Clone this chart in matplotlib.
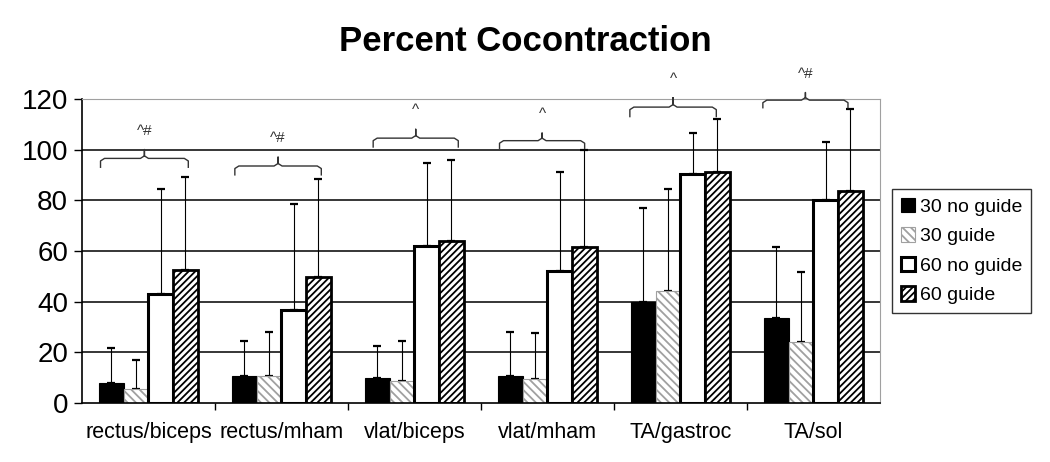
import numpy as np
from matplotlib import pyplot as plt

plt.rcParams['font.family'] = ['Liberation Sans', 'DejaVu Sans']

muscles = ['rectus/biceps', 'rectus/mham', 'vlat/biceps', 'vlat/mham', 'TA/gastroc', 'TA/sol']
series = ['30 no guide', '30 guide', '60 no guide', '60 guide']

no_guide_30 = [8, 10.5, 10, 10.5, 40, 33.5]
guide_30 = [5.5, 10.5, 8.5, 9.5, 44, 24]
no_guide_60 = [43, 36.5, 62, 52, 90.5, 80]
guide_60 = [52.5, 49.5, 64, 61.5, 91, 83.5]

err_no_guide_30 = [13.5, 14, 12.5, 17.5, 37, 28]
err_guide_30 = [11.5, 17.5, 16, 18, 40.5, 27.5]
err_no_guide_60 = [41.5, 42, 32.5, 39, 16, 23]
err_guide_60 = [36.5, 39, 32, 38.5, 21, 32.5]

marks = ['^#', '^#', '^', '^', '^', '^#']
brace_low = [93, 90, 101, 100.5, 113, 116.5]
brace_high = [100, 97, 108, 106.5, 120.5, 122.5]
brace_left = [-0.36, -0.35, -0.31, -0.36, -0.38, -0.38]
brace_right = [0.3, 0.3, 0.33, 0.28, 0.27, 0.26]

fig = plt.figure(figsize=(10.5, 4.62), dpi=100)
ax = fig.add_axes([0.078, 0.128, 0.76, 0.658])

x = np.arange(len(muscles))
w = 0.185
offs = np.array([-1.5, -0.5, 0.5, 1.5]) * w

plt.rcParams['hatch.linewidth'] = 1.3
styles = [
    dict(color='black', edgecolor='black', linewidth=0.8),
    dict(color='white', edgecolor='#a0a0a0', hatch='\\\\\\\\', linewidth=0.8),
    dict(color='white', edgecolor='black', linewidth=2.2),
    dict(color='white', edgecolor='black', hatch='/////', linewidth=2.0),
]

vals = [no_guide_30, guide_30, no_guide_60, guide_60]
errs = [err_no_guide_30, err_guide_30, err_no_guide_60, err_guide_60]

for y in [20, 40, 60, 80, 100]:
    ax.axhline(y, color='black', lw=1.1, zorder=1)

handles = []
for i in range(4):
    b = ax.bar(x + offs[i], vals[i], w, label=series[i], zorder=2, **styles[i])
    handles.append(b)
    ax.errorbar(x + offs[i], vals[i], yerr=[np.zeros(6), errs[i]], fmt='none',
                ecolor='black', elinewidth=0.8, capsize=3, capthick=1.6, zorder=1.5)

# significance braces
for i in range(len(muscles)):
    l = x[i] + brace_left[i]
    r = x[i] + brace_right[i]
    m = (l + r) / 2
    lo = brace_low[i]
    hi = brace_high[i]
    mid = (lo + hi) / 2
    c = 0.03
    bx = [l, l, l + c, m - c, m, m, m, m + c, r - c, r, r]
    by = [lo, mid - 1, mid, mid, mid + 1, hi, mid + 1, mid, mid, mid - 1, lo]
    ax.plot(bx, by, color='#333333', lw=1.0, clip_on=False, zorder=3)
    ax.text(m, hi + 7.5, marks[i], ha='center', va='center', fontsize=11, color='#333333')

ax.set_xlim(-0.5, 5.5)
ax.set_ylim(0, 120)
ax.set_yticks([0, 20, 40, 60, 80, 100, 120])
ax.tick_params(axis='y', labelsize=20, length=6, pad=4, direction='out', width=1)
ax.set_xticks(x)
ax.set_xticklabels(muscles, fontsize=15.5)
ax.tick_params(axis='x', length=0, pad=14)
ax.set_xticks(np.arange(0.5, 5.5, 1), minor=True)
ax.tick_params(axis='x', which='minor', length=5, direction='out', width=1)

ax.spines['left'].set_color('black')
ax.spines['bottom'].set_color('black')
ax.spines['left'].set_linewidth(1.2)
ax.spines['bottom'].set_linewidth(1.2)
ax.spines['top'].set_color('#a0a0a0')
ax.spines['right'].set_color('#a0a0a0')

fig.text(0.5, 0.91, 'Percent Cocontraction', ha='center', va='center',
         fontsize=25, fontweight='bold')

leg = fig.legend(handles=handles, labels=series, loc='upper left',
                 bbox_to_anchor=(0.8495, 0.591), fontsize=14, frameon=True,
                 fancybox=False, edgecolor='black', handlelength=0.75,
                 handleheight=0.75, handletextpad=0.25, borderpad=0.45,
                 borderaxespad=0, labelspacing=0.6)
leg.get_frame().set_linewidth(1.0)

fig.savefig('out.png', dpi=100)
